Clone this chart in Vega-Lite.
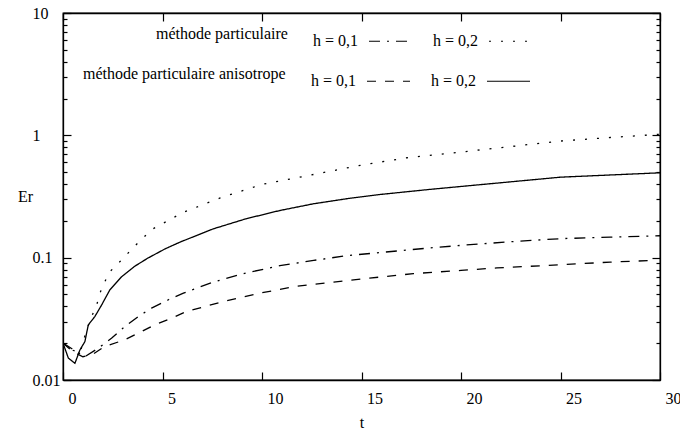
{
  "$schema": "https://vega.github.io/schema/vega-lite/v6.json",
  "width": 597,
  "height": 367,
  "autosize": {"type": "none"},
  "padding": {"left": 63, "top": 13, "right": 20, "bottom": 49},
  "background": "white",
  "datasets": {
    "particulaire": [
      {"h": "h = 0,1", "t": 0, "Er": 0.020},
      {"h": "h = 0,1", "t": 0.45, "Er": 0.018},
      {"h": "h = 0,1", "t": 1.1, "Er": 0.0155},
      {"h": "h = 0,1", "t": 1.77, "Er": 0.0182},
      {"h": "h = 0,1", "t": 2.45, "Er": 0.022},
      {"h": "h = 0,1", "t": 3.1, "Er": 0.0273},
      {"h": "h = 0,1", "t": 3.78, "Er": 0.033},
      {"h": "h = 0,1", "t": 4.45, "Er": 0.0387},
      {"h": "h = 0,1", "t": 5.3, "Er": 0.0453},
      {"h": "h = 0,1", "t": 6.05, "Er": 0.0513},
      {"h": "h = 0,1", "t": 7.55, "Er": 0.0632},
      {"h": "h = 0,1", "t": 9.2, "Er": 0.075},
      {"h": "h = 0,1", "t": 10.9, "Er": 0.086},
      {"h": "h = 0,1", "t": 12.6, "Er": 0.095},
      {"h": "h = 0,1", "t": 14.3, "Er": 0.104},
      {"h": "h = 0,1", "t": 15.9, "Er": 0.110},
      {"h": "h = 0,1", "t": 18.4, "Er": 0.120},
      {"h": "h = 0,1", "t": 20, "Er": 0.126},
      {"h": "h = 0,1", "t": 22.5, "Er": 0.135},
      {"h": "h = 0,1", "t": 25, "Er": 0.143},
      {"h": "h = 0,1", "t": 27.5, "Er": 0.147},
      {"h": "h = 0,1", "t": 30, "Er": 0.151},
      {"h": "h = 0,2", "t": 0, "Er": 0.020},
      {"h": "h = 0,2", "t": 0.5, "Er": 0.0175},
      {"h": "h = 0,2", "t": 0.85, "Er": 0.0166},
      {"h": "h = 0,2", "t": 1.19, "Er": 0.0257},
      {"h": "h = 0,2", "t": 1.44, "Er": 0.033},
      {"h": "h = 0,2", "t": 1.69, "Er": 0.041},
      {"h": "h = 0,2", "t": 1.94, "Er": 0.0565},
      {"h": "h = 0,2", "t": 2.36, "Er": 0.077},
      {"h": "h = 0,2", "t": 2.78, "Er": 0.090},
      {"h": "h = 0,2", "t": 3.2, "Er": 0.106},
      {"h": "h = 0,2", "t": 3.62, "Er": 0.125},
      {"h": "h = 0,2", "t": 4.46, "Er": 0.170},
      {"h": "h = 0,2", "t": 6.05, "Er": 0.235},
      {"h": "h = 0,2", "t": 7.9, "Er": 0.308},
      {"h": "h = 0,2", "t": 10, "Er": 0.397},
      {"h": "h = 0,2", "t": 12.6, "Er": 0.479},
      {"h": "h = 0,2", "t": 15, "Er": 0.571},
      {"h": "h = 0,2", "t": 17.3, "Er": 0.656},
      {"h": "h = 0,2", "t": 20, "Er": 0.73},
      {"h": "h = 0,2", "t": 22.5, "Er": 0.81},
      {"h": "h = 0,2", "t": 25, "Er": 0.898},
      {"h": "h = 0,2", "t": 27.5, "Er": 0.96},
      {"h": "h = 0,2", "t": 30, "Er": 1.02}
    ],
    "anisotrope": [
      {"h": "h = 0,1", "t": 0, "Er": 0.020},
      {"h": "h = 0,1", "t": 0.5, "Er": 0.017},
      {"h": "h = 0,1", "t": 1.0, "Er": 0.0155},
      {"h": "h = 0,1", "t": 1.44, "Er": 0.016},
      {"h": "h = 0,1", "t": 2.1, "Er": 0.0188},
      {"h": "h = 0,1", "t": 3.1, "Er": 0.0213},
      {"h": "h = 0,1", "t": 3.95, "Er": 0.0249},
      {"h": "h = 0,1", "t": 4.6, "Er": 0.0282},
      {"h": "h = 0,1", "t": 5.45, "Er": 0.032},
      {"h": "h = 0,1", "t": 6.2, "Er": 0.0363},
      {"h": "h = 0,1", "t": 8.05, "Er": 0.0438},
      {"h": "h = 0,1", "t": 9.9, "Er": 0.0513},
      {"h": "h = 0,1", "t": 11.7, "Er": 0.0582},
      {"h": "h = 0,1", "t": 13.6, "Er": 0.0632},
      {"h": "h = 0,1", "t": 15.4, "Er": 0.068},
      {"h": "h = 0,1", "t": 17.6, "Er": 0.074},
      {"h": "h = 0,1", "t": 20, "Er": 0.0787},
      {"h": "h = 0,1", "t": 21.8, "Er": 0.0824},
      {"h": "h = 0,1", "t": 25.1, "Er": 0.0877},
      {"h": "h = 0,1", "t": 27.5, "Er": 0.092},
      {"h": "h = 0,1", "t": 29.7, "Er": 0.095},
      {"h": "h = 0,2", "t": 0, "Er": 0.020},
      {"h": "h = 0,2", "t": 0.27, "Er": 0.0151},
      {"h": "h = 0,2", "t": 0.6, "Er": 0.0137},
      {"h": "h = 0,2", "t": 0.85, "Er": 0.0176},
      {"h": "h = 0,2", "t": 1.1, "Er": 0.0206},
      {"h": "h = 0,2", "t": 1.27, "Er": 0.0282},
      {"h": "h = 0,2", "t": 1.6, "Er": 0.033},
      {"h": "h = 0,2", "t": 1.94, "Er": 0.041},
      {"h": "h = 0,2", "t": 2.36, "Er": 0.0547},
      {"h": "h = 0,2", "t": 2.95, "Er": 0.070},
      {"h": "h = 0,2", "t": 3.6, "Er": 0.085},
      {"h": "h = 0,2", "t": 4.28, "Er": 0.0995},
      {"h": "h = 0,2", "t": 5.13, "Er": 0.118},
      {"h": "h = 0,2", "t": 5.88, "Er": 0.134},
      {"h": "h = 0,2", "t": 7.55, "Er": 0.172},
      {"h": "h = 0,2", "t": 9.2, "Er": 0.208},
      {"h": "h = 0,2", "t": 10.9, "Er": 0.243},
      {"h": "h = 0,2", "t": 12.6, "Er": 0.276},
      {"h": "h = 0,2", "t": 14.3, "Er": 0.304},
      {"h": "h = 0,2", "t": 15.9, "Er": 0.328},
      {"h": "h = 0,2", "t": 18.4, "Er": 0.361},
      {"h": "h = 0,2", "t": 20, "Er": 0.382},
      {"h": "h = 0,2", "t": 25, "Er": 0.455},
      {"h": "h = 0,2", "t": 30, "Er": 0.494}
    ]
  },
  "layer": [
    {
      "data": {"name": "particulaire"},
      "mark": {"type": "line", "stroke": "black", "strokeWidth": 1.3, "clip": true},
      "encoding": {
        "x": {
          "field": "t", "type": "quantitative",
          "scale": {"domain": [0, 30], "nice": false, "zero": false},
          "axis": {
            "orient": "bottom", "title": "t", "values": [0, 5, 10, 15, 20, 25, 30],
            "titleX": 298.5, "titleY": 47, "titleBaseline": "alphabetic", "titleAnchor": "middle", "titleAlign": "center",
            "labelAlign": "left", "labelOffset": 5, "labelBaseline": "alphabetic", "labelPadding": 31, "labelFlush": false,
            "tickSize": -8
          }
        },
        "y": {
          "field": "Er", "type": "quantitative",
          "scale": {"type": "log", "domain": [0.01, 10], "nice": false},
          "axis": {
            "orient": "left", "title": "Er",
            "values": [0.01, 0.1, 1, 10],
            "labelExpr": "datum.value == 0.01 ? '0.01' : datum.value == 0.1 ? '0.1' : datum.value == 1 ? '1' : '10'",
            "labelAlign": "left", "labelBaseline": "middle", "labelPadding": 39, "labelFlush": false, "labelOverlap": false, "labelBound": false, "labelLimit": 0,
            "tickSize": -8,
            "titleAngle": 0, "titleX": -38, "titleY": 183.5, "titleAlign": "center", "titleBaseline": "middle"
          }
        },
        "strokeDash": {
          "field": "h", "type": "nominal",
          "scale": {"domain": ["h = 0,1", "h = 0,2"], "range": [[11, 7, 2, 7], [2, 10]]},
          "legend": {"title": "méthode particulaire", "legendX": 93, "legendY": 5.5}
        }
      }
    },
    {
      "data": {"name": "anisotrope"},
      "mark": {"type": "line", "stroke": "black", "strokeWidth": 1.3, "clip": true},
      "encoding": {
        "x": {
          "field": "t", "type": "quantitative",
          "axis": {"orient": "top", "title": null, "labels": false, "values": [0, 5, 10, 15, 20, 25, 30], "tickSize": -8}
        },
        "y": {
          "field": "Er", "type": "quantitative",
          "axis": {
            "orient": "right", "title": null, "labels": false,
            "values": [0.01, 0.02, 0.03, 0.04, 0.05, 0.06, 0.07, 0.08, 0.09, 0.1, 0.2, 0.3, 0.4, 0.5, 0.6, 0.7, 0.8, 0.9, 1, 2, 3, 4, 5, 6, 7, 8, 9, 10],
            "tickSize": {"condition": {"test": "datum.value == 0.01 || datum.value == 0.1 || datum.value == 1 || datum.value == 10", "value": -8}, "value": -4}
          }
        },
        "strokeDash": {
          "field": "h", "type": "nominal",
          "scale": {"domain": ["h = 0,1", "h = 0,2"], "range": [[9, 9], [1, 0]]},
          "legend": {"title": "méthode particulaire anisotrope", "legendX": 20, "legendY": 45.5}
        }
      }
    },
    {
      "data": {"name": "particulaire"},
      "mark": {"type": "line", "stroke": "black", "strokeOpacity": 0, "clip": true},
      "encoding": {
        "x": {"field": "t", "type": "quantitative", "axis": null},
        "y": {
          "field": "Er", "type": "quantitative",
          "axis": {
            "orient": "left", "title": null, "labels": false, "domain": false,
            "values": [0.02, 0.03, 0.04, 0.05, 0.06, 0.07, 0.08, 0.09, 0.2, 0.3, 0.4, 0.5, 0.6, 0.7, 0.8, 0.9, 2, 3, 4, 5, 6, 7, 8, 9],
            "tickSize": -4
          }
        },
        "detail": {"field": "h", "type": "nominal"}
      }
    }
  ],
  "resolve": {
    "scale": {"strokeDash": "independent"},
    "legend": {"strokeDash": "independent"},
    "axis": {"x": "independent", "y": "independent"}
  },
  "config": {
    "font": "Liberation Serif",
    "view": {"stroke": "black", "strokeWidth": 1.3},
    "axis": {
      "grid": false,
      "domainColor": "black", "domainWidth": 1.3,
      "tickColor": "black", "tickWidth": 1.2,
      "labelFont": "Liberation Serif", "labelFontSize": 16, "labelColor": "black",
      "titleFont": "Liberation Serif", "titleFontSize": 16, "titleFontWeight": "normal", "titleColor": "black"
    },
    "legend": {
      "orient": "none",
      "direction": "horizontal",
      "titleOrient": "left",
      "titleAnchor": "middle",
      "titleFont": "Liberation Serif", "titleFontSize": 16, "titleFontWeight": "normal", "titleColor": "black",
      "titlePadding": 80,
      "titleBaseline": "middle",
      "titleLimit": 0,
      "labelFont": "Liberation Serif", "labelFontSize": 16, "labelColor": "black",
      "labelAlign": "right", "labelOffset": -55, "labelLimit": 0,
      "symbolType": "stroke", "symbolSize": 1850, "symbolStrokeWidth": 1.2, "symbolStrokeColor": "black",
      "columnPadding": 17,
      "padding": 0
    }
  }
}
